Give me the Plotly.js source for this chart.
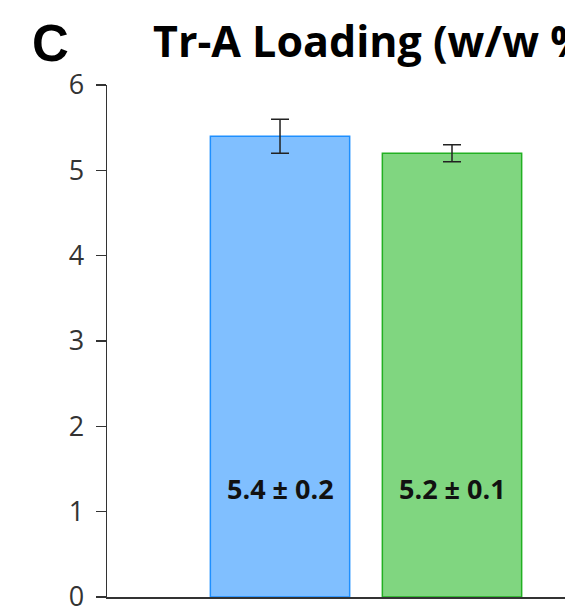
<!DOCTYPE html>
<html>
<head>
<meta charset="utf-8">
<script src="https://cdn.plot.ly/plotly-3.0.1.min.js"></script>
<style>
  html, body { margin: 0; padding: 0; background: #fff; }
  #chart { width: 565px; height: 607px; }
</style>
</head>
<body>
<div id="chart"></div>
<script>
// ---- data ----
const categories = ["Formulation 1", "Formulation 2"];
const loadingMean = [5.4, 5.2];
const loadingSD = [0.2, 0.1];
const fillColors = ["#80BFFF", "#80D680"];
const edgeColors = ["#1E8FFF", "#22B022"];
const yTicks = [0, 1, 2, 3, 4, 5, 6];
const titleText = "Tr-A Loading (w/w %)";
const panelLetter = "C";

const labels = loadingMean.map((m, i) => m.toFixed(1) + " ± " + loadingSD[i].toFixed(1));

const trace = {
  type: "bar",
  x: categories,
  y: loadingMean,
  width: 0.81,
  marker: { color: fillColors, line: { color: edgeColors, width: 1.5 } },
  error_y: { type: "data", array: loadingSD, visible: true, color: "#222", thickness: 1.5, width: 9 },
  hoverinfo: "none"
};

const annotations = labels.map((t, i) => ({
  x: categories[i], y: 1.27, xref: "x", yref: "y",
  text: "<b>" + t + "</b>", showarrow: false,
  font: { family: "Open Sans", size: 27, color: "#111" }
}));
annotations.push({
  xref: "paper", yref: "paper", x: -0.168, y: 1.082, xanchor: "left", yanchor: "middle",
  text: "<b>" + panelLetter + "</b>", showarrow: false,
  font: { family: "Liberation Sans", size: 51, color: "#000" }
});

const layout = {
  width: 565, height: 607,
  margin: { l: 107, r: 0, t: 85, b: 10 },
  paper_bgcolor: "#fff", plot_bgcolor: "#fff",
  showlegend: false,
  title: {
    text: "<b>" + titleText + "</b>",
    xref: "container", yref: "container",
    x: 153 / 565, xanchor: "left",
    y: 1 - 42 / 607, yanchor: "middle",
    font: { family: "Open Sans", size: 43, color: "#000" }
  },
  xaxis: {
    type: "category",
    range: [-1.006, 1.657],
    showticklabels: false, ticks: "",
    showline: true, linecolor: "#333", linewidth: 1.5,
    showgrid: false, zeroline: false, fixedrange: true
  },
  yaxis: {
    range: [0, 6],
    tickvals: yTicks, ticktext: yTicks.map(String),
    ticks: "outside", ticklen: 10, tickwidth: 1.5, tickcolor: "#333",
    showline: true, linecolor: "#333", linewidth: 1.5,
    showgrid: false, zeroline: false,
    tickfont: { family: "Open Sans", size: 27, color: "#333" },
    ticklabelstandoff: 6,
    ticklabeloverflow: "allow",
    fixedrange: true
  },
  annotations: annotations
};

Plotly.newPlot("chart", [trace], layout, { staticPlot: true, displayModeBar: false });
</script>
</body>
</html>
